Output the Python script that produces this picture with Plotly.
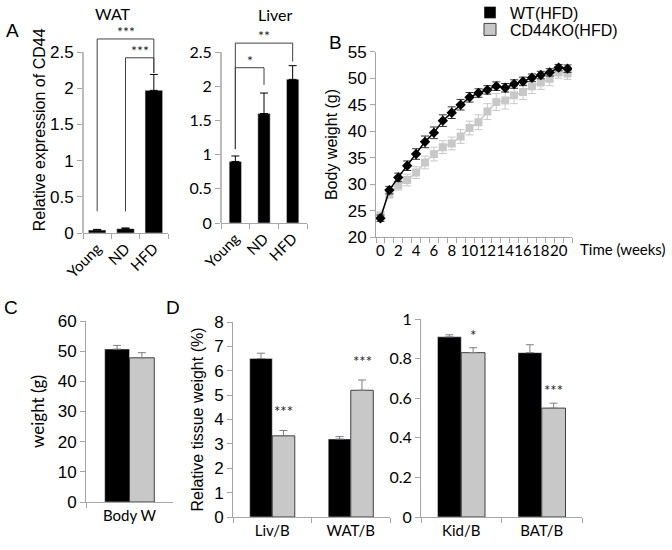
import plotly.graph_objects as go

# ---------------- data ----------------
groups_A = ["Young", "ND", "HFD"]
wat_vals = [0.04, 0.06, 1.97]
wat_err = [0.01, 0.01, 0.22]
liver_vals = [0.90, 1.60, 2.10]
liver_err = [0.08, 0.30, 0.20]
# brackets: (x_left, x_right, y_line, y_left_end, y_right_end, label)
wat_brackets = [(0, 2, 2.68, 0.30, 2.21, "***"), (1, 2, 2.42, 0.30, 2.21, "***")]
liver_brackets = [(0, 2, 2.63, 1.08, 2.36, "**"), (0, 1, 2.27, 1.08, 2.02, "*")]

weeks = list(range(22))
wt_bw = [23.6, 28.9, 31.3, 33.5, 35.7, 38.0, 39.7, 42.0, 43.5, 45.0, 46.4, 47.2,
         47.8, 48.5, 48.2, 48.9, 49.4, 50.1, 50.6, 51.1, 52.0, 51.8]
wt_bw_err = [0.6, 0.7, 0.8, 0.9, 1.0, 1.1, 1.1, 1.1, 1.1, 1.0, 0.9, 0.8,
             0.8, 0.8, 0.8, 0.8, 0.8, 0.7, 0.7, 0.7, 0.6, 0.7]
ko_bw = [24.1, 28.2, 29.8, 30.8, 32.2, 34.1, 35.7, 37.0, 37.7, 39.0, 40.6, 41.7,
         43.7, 45.5, 45.8, 46.8, 47.4, 48.5, 49.2, 49.9, 51.1, 50.9]
ko_bw_err = [0.6, 0.8, 0.9, 1.1, 1.1, 1.2, 1.3, 1.2, 1.2, 1.3, 1.3, 1.4,
             1.5, 1.6, 1.6, 1.6, 1.4, 1.4, 1.3, 1.3, 1.1, 1.1]
week_ticks = list(range(0, 21, 2))

cat_C = ["Body W"]
wt_C = [50.7]
wt_C_err = [1.2]
ko_C = [47.8]
ko_C_err = [1.7]

cat_D1 = ["Liv/B", "WAT/B"]
wt_D1 = [6.50, 3.20]
wt_D1_err = [0.22, 0.10]
ko_D1 = [3.33, 5.20]
ko_D1_err = [0.22, 0.42]
sig_D1 = ["***", "***"]

cat_D2 = ["Kid/B", "BAT/B"]
wt_D2 = [0.91, 0.83]
wt_D2_err = [0.01, 0.04]
ko_D2 = [0.83, 0.55]
ko_D2_err = [0.025, 0.025]
sig_D2 = ["*", "***"]

# ---------------- style ----------------
W, H = 672, 550
BLACK = "#000000"
GRAY = "#c8c8c8"
AXC = "#a6a6a6"
ARIAL = "Liberation Sans, Arial, sans-serif"
CAL = "Lato, Carlito, Calibri, sans-serif"


def px(p):
    return p / W


def py(p):
    return 1 - p / H


def dom_x(p0, p1):
    return [px(p0), px(p1)]


def dom_y(pbottom, ptop):
    return [py(pbottom), py(ptop)]


fig = go.Figure()

# ---------------- Panel A ----------------
fig.add_trace(go.Bar(x=groups_A, y=wat_vals, width=0.62, marker_color=BLACK,
                     error_y=dict(type="data", array=wat_err, arrayminus=[0] * 3,
                                  symmetric=False, color=BLACK, thickness=1, width=4),
                     xaxis="x", yaxis="y", showlegend=False))
fig.add_trace(go.Bar(x=groups_A, y=liver_vals, width=0.43, marker_color=BLACK,
                     error_y=dict(type="data", array=liver_err, arrayminus=[0] * 3,
                                  symmetric=False, color=BLACK, thickness=1, width=4),
                     xaxis="x2", yaxis="y2", showlegend=False))

shapes = []
annotations = []


def add_brackets(brackets, xr, yr):
    for (a, b, yl, ya, yb, lab) in brackets:
        shapes.append(dict(type="path", xref=xr, yref=yr,
                           path=f"M {a},{ya} L {a},{yl} L {b},{yl} L {b},{yb}",
                           line=dict(color="#404040", width=1)))
        annotations.append(dict(x=(a + b) / 2, y=yl, xref=xr, yref=yr, text=lab,
                                showarrow=False, yanchor="bottom", yshift=-3,
                                font=dict(family=CAL, size=14, color="#222")))


add_brackets(wat_brackets, "x", "y")
add_brackets(liver_brackets, "x2", "y2")

# axis lines for A (ranges extended above to fit brackets)
shapes.append(dict(type="line", xref="x domain", yref="y", x0=0, x1=0, y0=0, y1=2.5,
                   line=dict(color=AXC, width=1.5)))
shapes.append(dict(type="line", xref="x2 domain", yref="y2", x0=0, x1=0, y0=0, y1=2.5,
                   line=dict(color=AXC, width=1.5)))

# ---------------- Panel B ----------------
fig.add_trace(go.Scatter(x=weeks, y=ko_bw, mode="lines+markers",
                         line=dict(color=GRAY, width=1.5),
                         marker=dict(symbol="square", size=8, color=GRAY),
                         error_y=dict(type="data", array=ko_bw_err, color=GRAY,
                                      thickness=1, width=4),
                         xaxis="x3", yaxis="y3", showlegend=False))
fig.add_trace(go.Scatter(x=weeks, y=wt_bw, mode="lines+markers",
                         line=dict(color=BLACK, width=1.5),
                         marker=dict(symbol="diamond", size=8, color=BLACK),
                         error_y=dict(type="data", array=wt_bw_err, color="#333",
                                      thickness=1, width=4),
                         xaxis="x3", yaxis="y3", showlegend=False))

# ---------------- Panel C / D ----------------


def grouped(cats, wt, wte, ko, koe, w, xa, ya, legend=False):
    fig.add_trace(go.Bar(x=cats, y=wt, width=w, offset=-w, marker_color=BLACK,
                         name="WT(HFD)", showlegend=legend, legend="legend",
                         error_y=dict(type="data", array=wte, arrayminus=[0] * len(wt),
                                      symmetric=False, color="#7f7f7f", thickness=1, width=4),
                         xaxis=xa, yaxis=ya))
    fig.add_trace(go.Bar(x=cats, y=ko, width=w, offset=0, marker_color=GRAY,
                         marker_line=dict(color="#404040", width=1),
                         name="CD44KO(HFD)", showlegend=legend, legend="legend2",
                         error_y=dict(type="data", array=koe, arrayminus=[0] * len(ko),
                                      symmetric=False, color="#7f7f7f", thickness=1, width=4),
                         xaxis=xa, yaxis=ya))


grouped(cat_C, wt_C, wt_C_err, ko_C, ko_C_err, 0.285, "x4", "y4", legend=True)
grouped(cat_D1, wt_D1, wt_D1_err, ko_D1, ko_D1_err, 0.287, "x5", "y5")
grouped(cat_D2, wt_D2, wt_D2_err, ko_D2, ko_D2_err, 0.295, "x6", "y6")


def add_sig(sigs, vals, errs, w, xr, yr, shift):
    for i, (s, v, e) in enumerate(zip(sigs, vals, errs)):
        annotations.append(dict(x=i + w / 2, y=v + e, xref=xr, yref=yr, text=s,
                                showarrow=False, yanchor="bottom", yshift=shift,
                                font=dict(family=CAL, size=15, color="#222")))


add_sig(sig_D1, ko_D1, ko_D1_err, 0.287, "x5", "y5", 8)
add_sig(sig_D2, ko_D2, ko_D2_err, 0.295, "x6", "y6", 2)

# ---------------- text ----------------
for txt, x, y, sz, fam, xa in [("A", 12, 30, 19, ARIAL, "center"), ("B", 335, 42, 19, ARIAL, "center"),
                               ("C", 11, 307, 19, ARIAL, "center"), ("D", 173, 307, 19, ARIAL, "center"),
                               ("WAT", 113, 13, 16, CAL, "center"), ("Liver", 275, 15, 16, CAL, "center"),
                               ("Time (weeks)", 668, 249, 15, CAL, "right")]:
    annotations.append(dict(text=txt, x=px(x), y=py(y), xref="paper", yref="paper",
                            showarrow=False, xanchor=xa, yanchor="middle",
                            font=dict(family=fam, size=sz, color="#000")))


def xax(domain, **kw):
    d = dict(domain=domain, showline=True, linecolor=AXC, linewidth=1,
             ticks="outside", tickcolor=AXC, ticklen=5, showgrid=False, zeroline=False,
             automargin=False,
             tickfont=dict(family=CAL, size=15, color="#000"), fixedrange=True)
    d.update(kw)
    return d


def yax(domain, **kw):
    d = dict(domain=domain, showline=True, linecolor=AXC, linewidth=1,
             ticks="outside", tickcolor=AXC, ticklen=5, showgrid=False, zeroline=False,
             automargin=False,
             tickfont=dict(family=CAL, size=16, color="#000"), fixedrange=True)
    d.update(kw)
    return d


leg_common = dict(xanchor="left", yanchor="middle",
                  font=dict(family=ARIAL, size=16, color="#000"),
                  itemwidth=30, bgcolor="rgba(0,0,0,0)")

fig.update_layout(
    width=W, height=H, margin=dict(l=0, r=0, t=0, b=0, autoexpand=False),
    font=dict(color="#000"),
    paper_bgcolor="white", plot_bgcolor="white", barmode="overlay",
    shapes=shapes, annotations=annotations,
    legend=dict(x=px(470), y=py(12.5), **leg_common),
    legend2=dict(x=px(470), y=py(29.5), **leg_common),
    xaxis=xax(dom_x(83, 168), tickson="boundaries", tickangle=-45, anchor="y",
              range=[-0.5, 2.5]),
    yaxis=yax(dom_y(233, 233 - 2.85 * 72.4), range=[0, 2.85], showline=False,
              tickvals=[0, 0.5, 1, 1.5, 2, 2.5], ticktext=["0", "0.5", "1", "1.5", "2", "2.5"],
              tickfont=dict(family=ARIAL, size=17, color="#000"),
              title=dict(text="Relative expression of CD44", standoff=0,
                         font=dict(family=ARIAL, size=16, color="#000")), anchor="x"),
    xaxis2=xax(dom_x(221, 307), tickson="boundaries", tickangle=-45, anchor="y2",
               range=[-0.5, 2.5]),
    yaxis2=yax(dom_y(223, 223 - 2.9 * 68.4), range=[0, 2.9], showline=False,
               tickvals=[0, 0.5, 1, 1.5, 2, 2.5], ticktext=["0", "0.5", "1", "1.5", "2", "2.5"],
               anchor="x2"),
    xaxis3=xax(dom_x(376, 572), range=[-0.5, 21.5], tickvals=week_ticks, ticks="",
               tickangle=0, tickfont=dict(family=CAL, size=15, color="#000"),
               minor=dict(tickvals=[i - 0.5 for i in range(23)], ticks="outside",
                          ticklen=5, tickcolor=AXC),
               anchor="y3"),
    yaxis3=yax(dom_y(237.3, 51.7), range=[20, 55], dtick=5,
               tickfont=dict(family=ARIAL, size=17, color="#000"),
               title=dict(text="Body weight (g)", standoff=6,
                          font=dict(family=ARIAL, size=16, color="#000")), anchor="x3"),
    xaxis4=xax(dom_x(86, 173), tickson="boundaries", range=[-0.5, 0.5], anchor="y4"),
    yaxis4=yax(dom_y(502, 321), range=[0, 60], dtick=10,
               tickfont=dict(family=ARIAL, size=17, color="#000"),
               title=dict(text="weight (g)", standoff=8,
                          font=dict(family=CAL, size=17, color="#000")), anchor="x4"),
    xaxis5=xax(dom_x(233, 390), tickson="boundaries", range=[-0.5, 1.5], anchor="y5"),
    yaxis5=yax(dom_y(517, 322), range=[0, 8], dtick=1,
               tickfont=dict(family=ARIAL, size=17, color="#000"),
               title=dict(text="Relative tissue weight (%)", standoff=6,
                          font=dict(family=ARIAL, size=16, color="#000")), anchor="x5"),
    xaxis6=xax(dom_x(421, 582), tickson="boundaries", range=[-0.5, 1.5], anchor="y6"),
    yaxis6=yax(dom_y(517, 319), range=[0, 1], dtick=0.2, anchor="x6"),
)

# remove the browser's default page margin so the figure sits at the window origin
fig.write_html("out.html", config={"displayModeBar": False},
               post_script="document.body.style.margin='0px';document.body.style.overflow='hidden';")
